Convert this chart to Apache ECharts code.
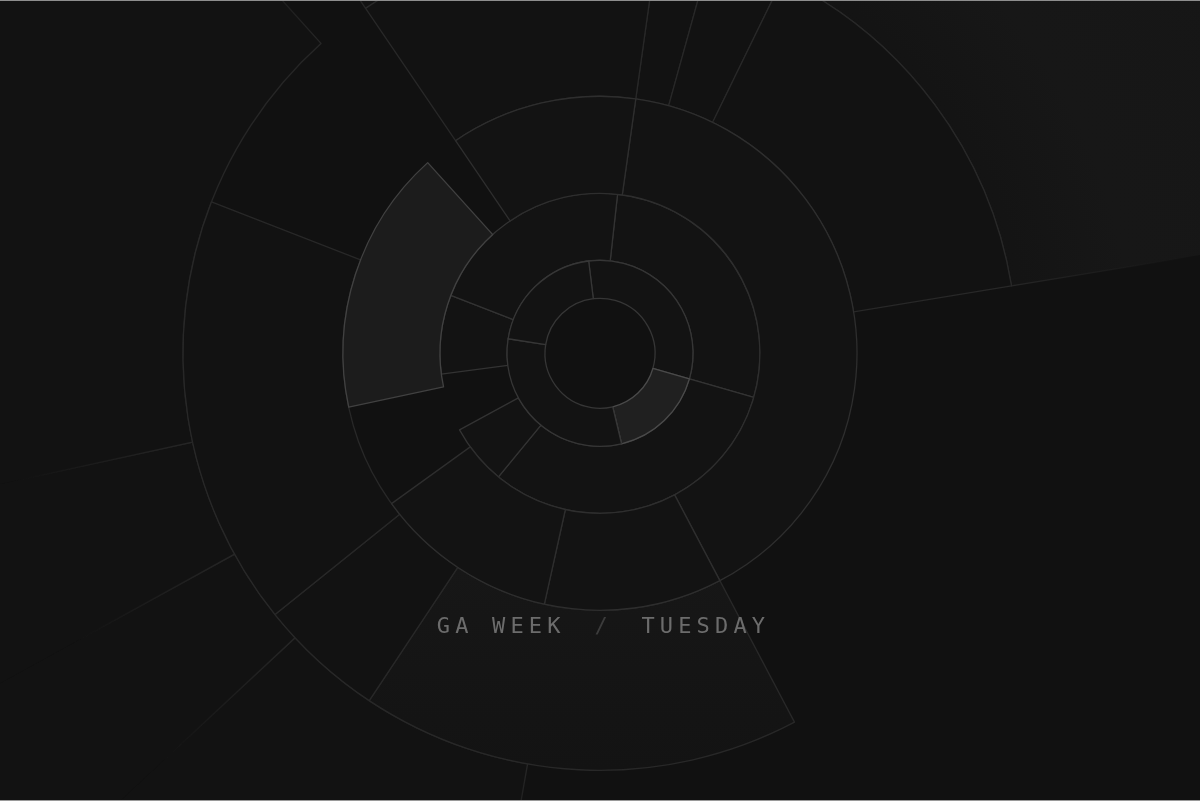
<!DOCTYPE html>
<html>
<head>
<meta charset="utf-8">
<script src="https://cdn.jsdelivr.net/npm/echarts@6/dist/echarts.min.js"></script>
<style>
  html, body { margin: 0; padding: 0; background: #111111; }
  #chart { width: 1200px; height: 799px; border-top: 1px solid #8e8e8e; border-bottom: 1px solid #9a9a9a; }
</style>
</head>
<body>
<div id="chart"></div>
<script>
// ---- data (angular spans in degrees, clockwise from 12 o'clock) ----
const ring1Start = 353;
const ring1Values = [113, 60.6, 112.4, 74];
const ring1Kinds  = ['base', 'hl', 'base', 'base'];

const ring2Start = 6.3;
const ring2Values = [99.7, 113.4, 22, 21.1, 28.7, 75.1];
const ring2Kinds  = ['base', 'base', 'base', 'gap', 'base', 'base'];

const ring3Start = 8;
const ring3Values = [144.2, 40.3, 41.7, 23.7, 60, 7.9, 42.2];
const ring3Kinds  = ['base', 'base', 'base', 'gap', 'hl', 'gap', 'base'];

const ring4Start = 8;
const ring4Values = [7.5, 10.5, 54.7, 71.5, 61.4, 17.6, 60.1, 34.5, 42.2];
const ring4Kinds  = ['base', 'base', 'base', 'gap', 'soft', 'base', 'base', 'gap', 'base'];

const ring5Start = 26;
const ring5Values = [54.7, 109.3, 37, 14.2, 16.5, 60.3, 7.8, 60.2];
const ring5Kinds  = ['soft', 'gap', 'base', 'base', 'base', 'base', 'gap', 'base'];

const titleLeft = 'GA WEEK';
const titleSep = '/';
const titleRight = 'TUESDAY';

// ---- chart ----
const CX = 600, CY = 352.3;
const chart = echarts.init(document.getElementById('chart'), null, { renderer: 'canvas' });

const ring5Border = {
  type: 'radial', x: CX, y: CY, r: 700, global: true,
  colorStops: [
    { offset: 0, color: 'rgba(42,42,42,1)' },
    { offset: 0.6, color: 'rgba(38,38,38,1)' },
    { offset: 0.74, color: 'rgba(32,32,32,0.6)' },
    { offset: 0.86, color: 'rgba(30,30,30,0)' },
    { offset: 1, color: 'rgba(30,30,30,0)' }
  ]
};
const ring5Soft = {
  type: 'radial', x: CX, y: CY, r: 760, global: true,
  colorStops: [
    { offset: 0.5, color: '#131313' },
    { offset: 0.56, color: '#141414' },
    { offset: 0.7, color: '#171717' },
    { offset: 1, color: '#161616' }
  ]
};
const ring4Soft = {
  type: 'linear', x: 0, y: 0, x2: 0, y2: 1,
  colorStops: [
    { offset: 0, color: '#171717' },
    { offset: 1, color: '#131313' }
  ]
};

const styles = {
  r1: { base: { color: '#131313', borderColor: '#363636' }, hl: { color: '#202020', borderColor: '#4a4a4a' } },
  r2: { base: { color: '#131313', borderColor: '#333333' } },
  r3: { base: { color: '#131313', borderColor: '#2e2e2e' }, hl: { color: '#1c1c1c', borderColor: '#414141' } },
  r4: { base: { color: '#121212', borderColor: '#282828' }, soft: { color: ring4Soft, borderColor: '#282828' } },
  r5: { base: { color: '#121212', borderColor: ring5Border }, soft: { color: ring5Soft, borderColor: ring5Border } }
};

function makeData(values, kinds, st) {
  return values.map((v, i) => {
    const k = kinds[i];
    if (k === 'gap') {
      return { value: v, itemStyle: { color: 'rgba(0,0,0,0)', borderWidth: 0, borderColor: 'rgba(0,0,0,0)' } };
    }
    const s = st[k] || st.base;
    return { value: v, itemStyle: { color: s.color, borderColor: s.borderColor, borderWidth: 1.3 } };
  });
}

function ring(values, kinds, start, radius, st, z) {
  return {
    type: 'pie',
    silent: true,
    z: z,
    center: [CX, CY],
    radius: radius,
    startAngle: 90 - start,
    clockwise: true,
    minAngle: 0,
    avoidLabelOverlap: false,
    label: { show: false },
    labelLine: { show: false },
    emphasis: { disabled: true },
    data: makeData(values, kinds, st)
  };
}

function cells(word) {
  return word.split('').map(ch => '{c|' + (ch === ' ' ? '\u00a0' : ch) + '}').join('');
}

const fontBase = { fontFamily: 'DejaVu Sans Mono', fontSize: 22, fontWeight: 'normal', lineHeight: 26 };

const option = {
  backgroundColor: '#111111',
  animation: false,
  title: {
    left: 436.8,
    top: 613,
    padding: 0,
    text: cells(titleLeft) + '{g1|\u00a0}{s|' + titleSep + '}{g2|\u00a0}' + cells(titleRight),
    textStyle: {
      fontWeight: 'normal',
      fontFamily: 'DejaVu Sans Mono',
      rich: {
        c:  Object.assign({}, fontBase, { color: '#6c6c6c', width: 18.4 }),
        g1: Object.assign({}, fontBase, { width: 28.8 }),
        s:  Object.assign({}, fontBase, { color: '#3c3c3c', width: 13.2 }),
        g2: Object.assign({}, fontBase, { width: 33.8 })
      }
    }
  },
  series: [
    ring(ring5Values, ring5Kinds, ring5Start, [417, 820], styles.r5, 1),
    ring(ring4Values, ring4Kinds, ring4Start, [257, 417], styles.r4, 2),
    ring(ring2Values, ring2Kinds, ring2Start, [93, 160], styles.r2, 3),
    ring(ring3Values, ring3Kinds, ring3Start, [160, 257], styles.r3, 4),
    ring(ring1Values, ring1Kinds, ring1Start, [55, 93], styles.r1, 5)
  ]
};
chart.setOption(option);
</script>
</body>
</html>
